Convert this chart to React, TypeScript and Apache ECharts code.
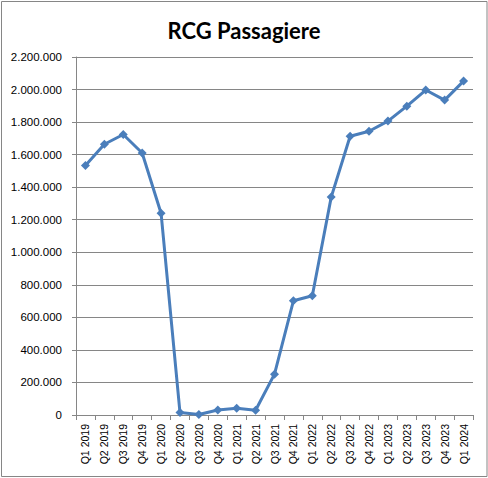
import React, { useEffect, useRef } from "react";
import * as echarts from "echarts";

const categories = [
  "Q1 2019", "Q2 2019", "Q3 2019", "Q4 2019",
  "Q1 2020", "Q2 2020", "Q3 2020", "Q4 2020",
  "Q1 2021", "Q2 2021", "Q3 2021", "Q4 2021",
  "Q1 2022", "Q2 2022", "Q3 2022", "Q4 2022",
  "Q1 2023", "Q2 2023", "Q3 2023", "Q4 2023",
  "Q1 2024",
];

const passengers = [
  1533000, 1664000, 1724000, 1610000,
  1240000, 15000, 3000, 31000,
  41000, 29000, 251000, 702000,
  733000, 1339000, 1713000, 1744000,
  1806000, 1898000, 1997000, 1935000,
  2052000,
];

const yMin = 0;
const yMax = 2200000;
const yInterval = 200000;

const fmt = (v: number) =>
  String(Math.round(v)).replace(/\B(?=(\d{3})+(?!\d))/g, ".");

export default function App() {
  const ref = useRef<HTMLDivElement>(null);
  useEffect(() => {
    if (!ref.current) return;
    const chart = echarts.init(ref.current, null, { renderer: "svg" });
    const gray = "#868686";
    chart.setOption({
      animation: false,
      backgroundColor: "#ffffff",
      title: {
        text: "RCG Passagiere",
        left: "center",
        top: 14,
        textStyle: {
          fontFamily: "Lato",
          fontWeight: "bold",
          fontSize: 22,
          color: "#000000",
        },
      },
      graphic: [
        {
          type: "rect",
          shape: { x: 1.5, y: 1.5, width: 485.5, height: 475 },
          style: { fill: "none", stroke: gray, lineWidth: 1 },
          silent: true,
        },
      ],
      grid: { left: 76, right: 15, top: 57, bottom: 63, containLabel: false },
      xAxis: {
        type: "category",
        data: categories,
        boundaryGap: true,
        axisLine: { lineStyle: { color: gray, width: 1 } },
        axisTick: { show: true, length: 5, inside: false, alignWithLabel: false, lineStyle: { color: gray } },
        axisLabel: {
          rotate: 90,
          interval: 0,
          margin: 9,
          fontFamily: "'Liberation Sans', Arial, sans-serif",
          fontSize: 10.5,
          color: "#000000",
        },
        splitLine: { show: false },
      },
      yAxis: {
        type: "value",
        min: yMin,
        max: yMax,
        interval: yInterval,
        axisLine: { show: true, lineStyle: { color: gray, width: 1 } },
        axisTick: { show: true, length: 4, lineStyle: { color: gray } },
        axisLabel: {
          formatter: (v: number) => fmt(v),
          margin: 14,
          fontFamily: "'Liberation Sans', Arial, sans-serif",
          fontSize: 11.5,
          color: "#000000",
        },
        splitLine: { show: true, lineStyle: { color: gray, width: 1 } },
      },
      series: [
        {
          type: "line",
          data: passengers,
          symbol: "diamond",
          symbolSize: 9,
          lineStyle: { color: "#4a7ebb", width: 3 },
          itemStyle: { color: "#4a7ebb" },
        },
      ],
    });
    return () => chart.dispose();
  }, []);
  return (
    <div
      ref={ref}
      style={{ position: "absolute", left: 0, top: 0, width: 488, height: 478 }}
    />
  );
}
